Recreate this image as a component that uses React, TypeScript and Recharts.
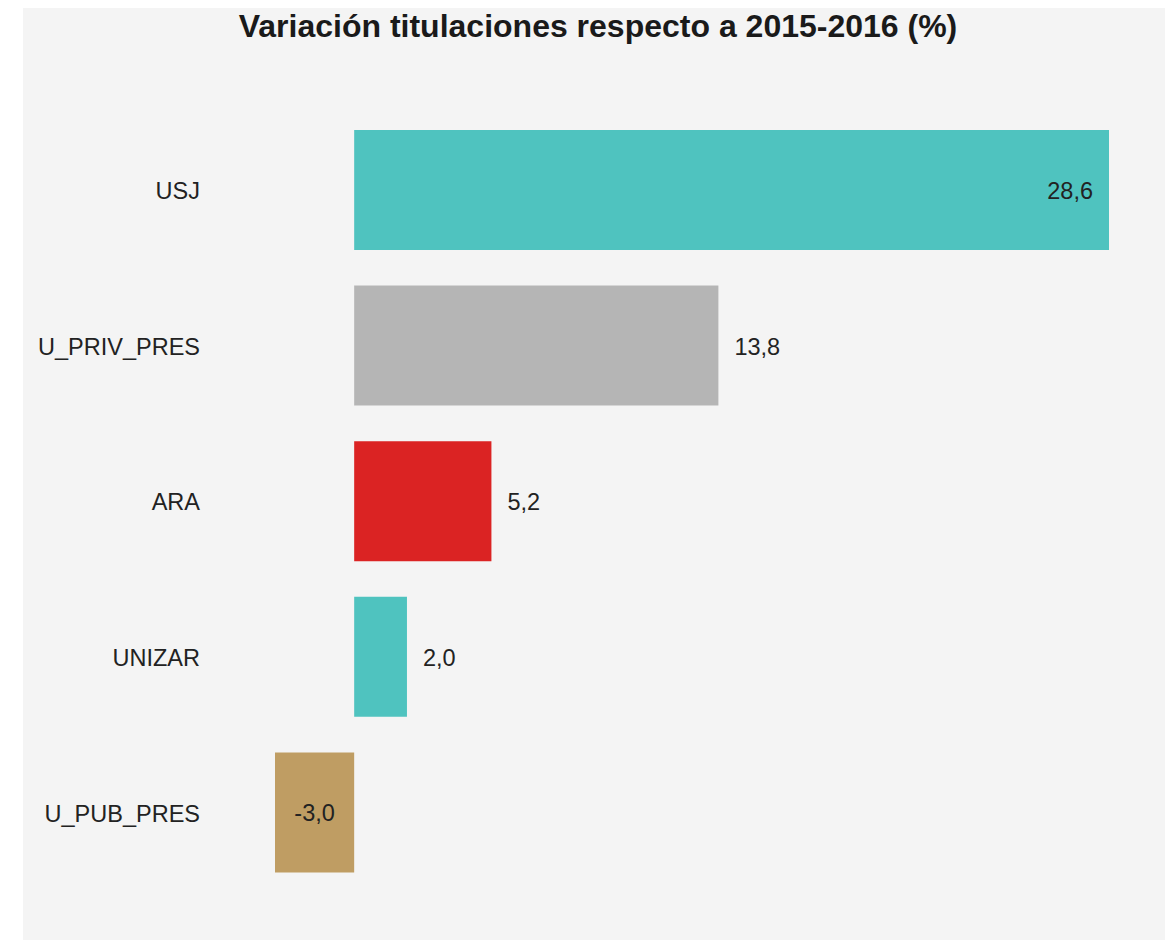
import React from 'react'
import { BarChart, Bar, XAxis, YAxis, Cell, LabelList } from 'recharts'

// ── data ─────────────────────────────────────────────
const CATEGORIES = ['USJ', 'U_PRIV_PRES', 'ARA', 'UNIZAR', 'U_PUB_PRES']
const VALUES = [28.6, 13.8, 5.2, 2.0, -3.0]
const COLORS = ['#4fc3bf', '#b5b5b5', '#db2323', '#4fc3bf', '#bf9d63']
const TITLE = 'Variación titulaciones respecto a 2015-2016 (%)'

const data = CATEGORIES.map((name, i) => ({ name, value: VALUES[i], color: COLORS[i] }))

const FONT = '"Liberation Sans", Arial, sans-serif'
const fmt = (v: number) => v.toFixed(1).replace('.', ',')

// value label: inside end for long bars, centred for negatives, outside otherwise
function ValueLabel(props: any) {
  const { x, y, width, height, value } = props
  const cy = y + height / 2 + 1
  let tx = x + width + 16
  let anchor: 'start' | 'end' | 'middle' = 'start'
  if (value < 0) {
    tx = x + width / 2
    anchor = 'middle'
  } else if (value > 20) {
    tx = x + width - 16
    anchor = 'end'
  }
  return (
    <text x={tx} y={cy} textAnchor={anchor} dominantBaseline="central"
      fontFamily={FONT} fontSize={23.5} fill="#222">
      {fmt(value)}
    </text>
  )
}

export default function App() {
  return (
    <div style={{ position: 'relative', width: 1150, height: 932, marginLeft: 15, background: '#f4f4f4' }}>
      <div style={{
        position: 'absolute', top: 2, left: 0, width: '100%', textAlign: 'center',
        fontFamily: FONT, fontWeight: 'bold', fontSize: 32, lineHeight: '32px', color: '#1a1a1a',
      }}>
        {TITLE}
      </div>
      <BarChart width={1150} height={932} data={data} layout="vertical"
        margin={{ top: 104, right: 64, bottom: 50, left: 0 }}>
        <XAxis type="number" domain={[-3, 28.6]} hide allowDataOverflow />
        <YAxis type="category" dataKey="name" width={252} axisLine={false} tickLine={false}
          tickSize={0} tickMargin={75}
          tick={{ fontFamily: FONT, fontSize: 23.5, fill: '#222', dy: 1 }} />
        <Bar dataKey="value" barSize={120} isAnimationActive={false}>
          {data.map((d, i) => <Cell key={`c-${i}`} fill={d.color} />)}
          <LabelList dataKey="value" content={ValueLabel} />
        </Bar>
      </BarChart>
    </div>
  )
}
